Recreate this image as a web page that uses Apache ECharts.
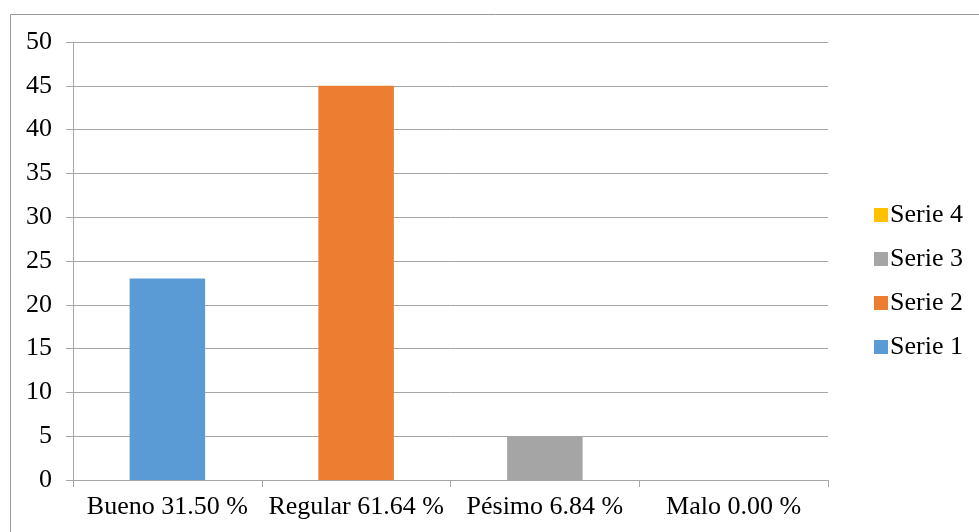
<!DOCTYPE html>
<html>
<head>
<meta charset="utf-8">
<script src="https://cdn.jsdelivr.net/npm/echarts@6/dist/echarts.min.js"></script>
<style>html,body{margin:0;padding:0;background:#fff;}#c{width:979px;height:532px;}</style>
</head>
<body>
<div id="c"></div>
<script>
var categories = ['Bueno 31.50 %', 'Regular 61.64 %', 'Pésimo 6.84 %', 'Malo 0.00 %'];
var seriesNames = ['Serie 1', 'Serie 2', 'Serie 3', 'Serie 4'];
var serie1 = [23, null, null, null];
var serie2 = [null, 45, null, null];
var serie3 = [null, null, 5, null];
var serie4 = [null, null, null, 0];
var yTicks = [0, 5, 10, 15, 20, 25, 30, 35, 40, 45, 50];

var colors = ['#5b9bd5', '#ed7d31', '#a5a5a5', '#ffc000'];
var font = 'Liberation Serif, Times New Roman, serif';
var values = [serie1, serie2, serie3, serie4];

var chart = echarts.init(document.getElementById('c'));
chart.setOption({
  animation: false,
  color: colors,
  textStyle: { fontFamily: font },
  graphic: [{
    type: 'rect', left: 8, top: 12, silent: true,
    shape: { x: 0, y: 0, width: 1000, height: 600 },
    style: { fill: 'none', stroke: '#9a9a9a', lineWidth: 1 }
  }],
  grid: { left: 73, right: 151, top: 42, bottom: 52, containLabel: false },
  legend: {
    orient: 'vertical', left: 869, top: 197,
    data: seriesNames.slice().reverse(),
    itemWidth: 14, itemHeight: 14, itemGap: 18,
    icon: 'rect',
    textStyle: { fontFamily: font, fontSize: 26, color: '#000', lineHeight: 26, padding: [0, 0, 0, -3] }
  },
  xAxis: {
    type: 'category', data: categories,
    axisLine: { lineStyle: { color: '#a6a6a6', width: 1 } },
    axisTick: { show: true, length: 7, lineStyle: { color: '#a6a6a6' } },
    axisLabel: { color: '#000', fontFamily: font, fontSize: 26, margin: 14, interval: 0 }
  },
  yAxis: {
    type: 'value', min: 0, max: 50, interval: 5,
    axisLine: { show: true, lineStyle: { color: '#a6a6a6', width: 1 } },
    axisTick: { show: true, length: 7, lineStyle: { color: '#a6a6a6' } },
    splitLine: { lineStyle: { color: '#a6a6a6', width: 1 } },
    axisLabel: { color: '#000', fontFamily: font, fontSize: 26, margin: 21,
      formatter: function (v) { return yTicks.indexOf(v) >= 0 ? String(v) : ''; } }
  },
  series: seriesNames.map(function (n, i) {
    return { name: n, type: 'bar', stack: 'all', barWidth: '40%', data: values[i],
      itemStyle: { color: colors[i] } };
  })
});
</script>
</body>
</html>
